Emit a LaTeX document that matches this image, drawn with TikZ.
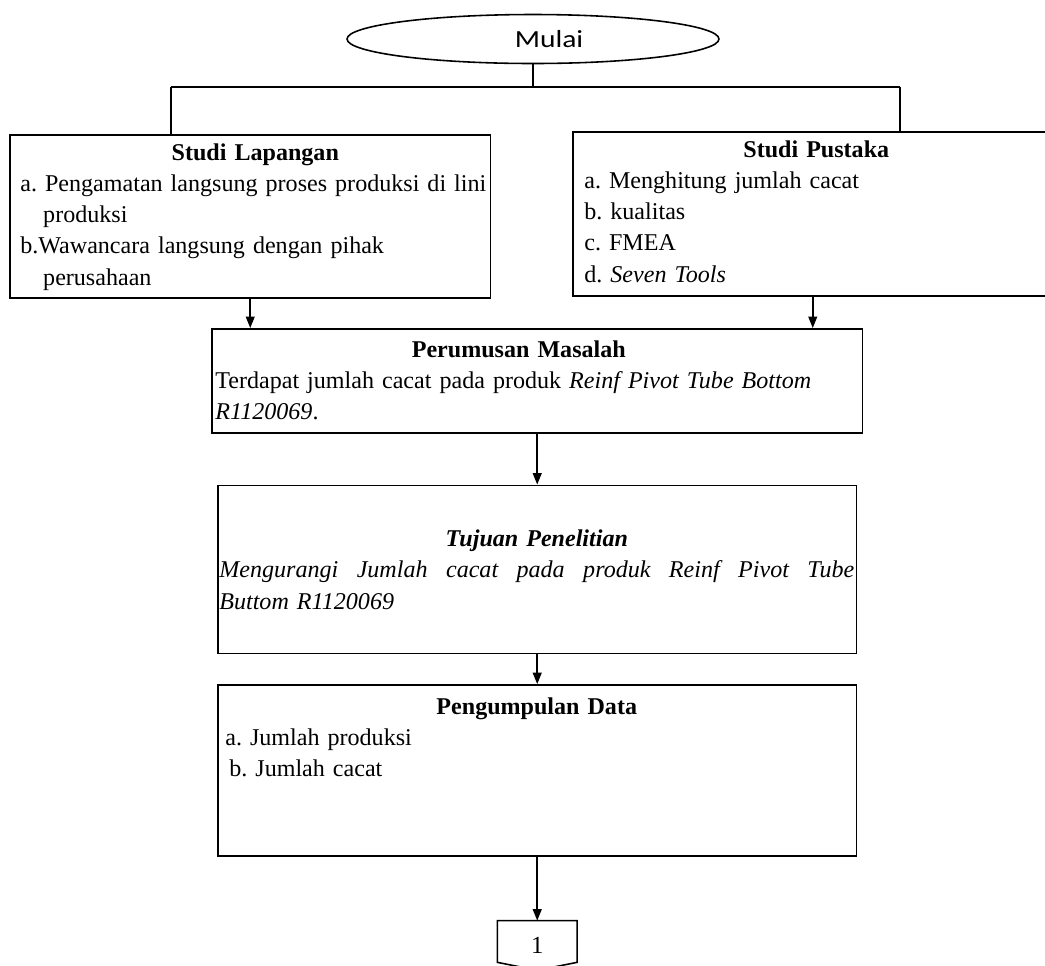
\documentclass[tikz,border=0pt]{standalone}
\usepackage{fontspec}
\setmainfont{Liberation Serif}
\newfontfamily\mulaifont[FakeStretch=1.2]{Carlito}
\usetikzlibrary{arrows.meta,positioning,shapes.geometric}
\tikzset{
  flowbox/.style={rectangle, draw=black, line width=0.9pt, inner sep=0pt},
  startbox/.style={
    ellipse, draw=black, line width=0.9pt, inner sep=0pt,
    minimum width=7.44cm, minimum height=0.98cm,
    font=\mulaifont\fontsize{14}{16}\selectfont
  },
  isitext/.style={inner sep=0pt, align=left, font=\fontsize{13.7}{17.8}\selectfont\frenchspacing},
  linkline/.style={line width=0.9pt},
  arrowstyle/.style={-{Triangle[length=6.5pt,width=5pt]}, line width=0.9pt},
}
\newcommand{\judul}[1]{{\centering\bfseries #1\par}}

\begin{document}
\begin{tikzpicture}[x=0.02cm, y=-0.02cm]
  \useasboundingbox (0,0) rectangle (1045,965);
  \node[startbox] (mulai) at (533,39) {\hspace*{0.64cm}Mulai};

  \node[flowbox, minimum width=9.62cm, minimum height=3.26cm, anchor=north west] (lapangan) at (9,134) {};
  \node[flowbox, minimum width=9.6cm, minimum height=3.28cm, anchor=north west] (pustaka) at (572,131) {};
  \node[flowbox, minimum width=13.02cm, minimum height=2.08cm, anchor=north west] (perumusan) at (211,328) {};
  \node[flowbox, minimum width=12.78cm, minimum height=3.36cm, below=1.02cm of perumusan] (tujuan) {};
  \node[flowbox, minimum width=12.78cm, minimum height=3.42cm, below=0.6cm of tujuan] (pengumpulan) {};
  \node[inner sep=0pt, minimum width=1.58cm, minimum height=0.98cm,
        font=\fontsize{14}{16}\selectfont, below=1.28cm of pengumpulan] (sambung) {1};
  \draw[linkline] (sambung.north west) -- (sambung.north east)
    -- ([yshift=0.16cm]sambung.south east) -- (sambung.south)
    -- ([yshift=0.16cm]sambung.south west) -- cycle;

  % cabang dari Mulai ke dua studi
  \coordinate (cabang) at (mulai.south |- 0,87);
  \coordinate (kiri) at (171,87);
  \coordinate (kanan) at (900,87);
  \draw[linkline] (mulai.south) -- (cabang);
  \draw[linkline] (kiri) -- (kanan);
  \draw[linkline] (kiri) -- (kiri |- lapangan.north);
  \draw[linkline] (kanan) -- (kanan |- pustaka.north);

  \draw[arrowstyle] (lapangan.south) -- (lapangan.south |- perumusan.north);
  \draw[arrowstyle] (pustaka.south) -- (pustaka.south |- perumusan.north);
  \draw[arrowstyle] (perumusan) -- (tujuan);
  \draw[arrowstyle] (tujuan) -- (pengumpulan);
  \draw[arrowstyle] (pengumpulan) -- (sambung);

  % isi kotak
  \node[isitext, text width=9.4cm, below right=0.52cm and 0.22cm of lapangan.north west, anchor=base west] (tekslapangan) {%
    \judul{Studi Lapangan}
    \mbox{a. Pengamatan langsung proses produksi di lini}\\
    \hspace*{0.95em}produksi\\
    b.Wawancara langsung dengan pihak\\
    \hspace*{0.95em}perusahaan};
  \node[isitext, text width=9.28cm, below right=0.52cm and 0.24cm of pustaka.north west, anchor=base west] (tekspustaka) {%
    \judul{Studi Pustaka}
    a. Menghitung jumlah cacat\\
    b. kualitas\\
    c. FMEA\\
    d. \textit{Seven Tools}};
  \node[isitext, text width=12.86cm, below right=0.58cm and 0.08cm of perumusan.north west, anchor=base west] (teksperumusan) {%
    \judul{Perumusan Masalah\hspace*{0.72cm}}
    Terdapat jumlah cacat pada produk \textit{Reinf Pivot Tube Bottom}\\
    \textit{R1120069}.};
  \node[isitext, text width=12.7cm, below right=1.24cm and 0.04cm of tujuan.north west, anchor=base west] (tekstujuan) {%
    \judul{\itshape Tujuan Penelitian}
    \itshape Mengurangi\hfill Jumlah\hfill cacat\hfill pada\hfill produk\hfill Reinf\hfill Pivot\hfill Tube\\
    Buttom R1120069};
  \node[isitext, text width=12.7cm, below right=0.6cm and 0.04cm of pengumpulan.north west, anchor=base west] (tekspengumpulan) {%
    \judul{Pengumpulan Data}
    \hspace*{0.12cm}a. Jumlah produksi\\
    \hspace*{0.2cm}b. Jumlah cacat};
\end{tikzpicture}
\end{document}
